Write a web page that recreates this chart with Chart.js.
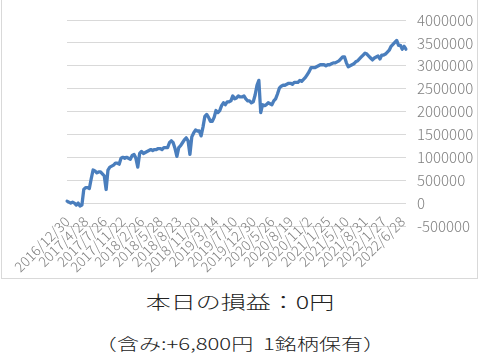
<!DOCTYPE html>
<html><head><meta charset="utf-8">
<script src="https://cdn.jsdelivr.net/npm/chart.js"></script>
<style>
html,body{margin:0;padding:0;background:#fff;width:480px;height:358px;overflow:hidden;}
#frame{position:absolute;left:1px;top:-1px;width:477px;height:280px;border:1px solid #d9d9d9;box-sizing:border-box;}
#c{position:absolute;left:0;top:0;}
.t{position:absolute;left:0;width:480px;text-align:center;font-family:"Noto Sans CJK JP","Noto Sans",sans-serif;color:#222;font-weight:300;white-space:pre;transform-origin:240px 50%;}
#t1{top:288px;font-size:18px;transform:scaleX(1.39);}
#t2{top:331px;font-size:16px;transform:scaleX(1.38);}
</style></head><body>
<div id="frame"></div>
<canvas id="c" width="480" height="278"></canvas>
<div class="t" id="t1">本日の損益：0円</div>
<div class="t" id="t2">（含み:+6,800円  1銘柄保有）</div>
<script>
const tickLabels = ["2016/12/30","2017/4/28","2017/7/26","2017/11/22","2018/2/26","2018/5/28","2018/8/23","2018/11/20","2019/3/14","2019/7/10","2019/12/30","2020/5/26","2020/8/19","2020/11/2","2021/1/25","2021/5/10","2021/8/31","2022/1/27","2022/6/28"];
const yTickValues = [-500000,0,500000,1000000,1500000,2000000,2500000,3000000,3500000,4000000];
const values = [
43000,21000,0,21000,0,-43000,0,-64000,-43000,298000,
340000,340000,319000,532000,723000,702000,660000,681000,681000,638000,
596000,298000,723000,787000,809000,830000,872000,872000,851000,979000,
1000000,979000,1000000,979000,958000,1043000,1064000,979000,787000,1085000,
1128000,1085000,1107000,1128000,1149000,1170000,1149000,1170000,1170000,1192000,
1192000,1170000,1213000,1213000,1213000,1319000,1362000,1319000,1192000,1021000,
1213000,1256000,1319000,1383000,1426000,1362000,1064000,1447000,1532000,1596000,
1575000,1575000,1468000,1660000,1894000,1936000,1873000,1787000,1787000,1873000,
2022000,1979000,2022000,2128000,2192000,2149000,2213000,2213000,2234000,2341000,
2277000,2298000,2341000,2319000,2319000,2341000,2277000,2234000,2234000,2192000,
2213000,2362000,2575000,2681000,1979000,2149000,2128000,2149000,2192000,2170000,
2149000,2234000,2277000,2383000,2511000,2554000,2575000,2575000,2596000,2617000,
2617000,2596000,2639000,2639000,2639000,2681000,2660000,2702000,2745000,2809000,
2873000,2958000,2958000,2958000,2979000,3000000,3022000,3022000,3022000,3000000,
3022000,3022000,3043000,3064000,3064000,3086000,3107000,3149000,3192000,3192000,
3064000,2979000,3000000,3022000,3043000,3086000,3107000,3149000,3192000,3234000,
3277000,3256000,3213000,3170000,3128000,3170000,3192000,3213000,3149000,3234000,
3234000,3256000,3298000,3341000,3426000,3468000,3511000,3553000,3447000,3447000,
3362000,3426000,3362000
];
const categories = values.map((v, i) => (i % 10 === 0 && tickLabels[i / 10]) ? tickLabels[i / 10] : '');
const FONT = '"Noto Sans CJK JP", "Noto Sans", sans-serif';
new Chart(document.getElementById('c'), {
  type: 'line',
  data: {
    labels: categories,
    datasets: [{
      data: values,
      borderColor: '#4a7ebd',
      borderWidth: 3.3,
      pointRadius: 0,
      tension: 0,
      fill: false,
      borderJoinStyle: 'round',
      borderCapStyle: 'round'
    }]
  },
  options: {
    responsive: false,
    animation: false,
    layout: { padding: { top: 15, bottom: 52, left: 67, right: 0 } },
    plugins: { legend: { display: false }, tooltip: { enabled: false } },
    scales: {
      x: {
        type: 'category',
        position: { y: 0 },
        offset: false,
        grid: { display: false, drawTicks: false },
        border: { display: false },
        ticks: {
          autoSkip: false, maxRotation: 45, minRotation: 45, padding: 10,
          color: '#808080', font: { family: FONT, size: 14, weight: 300 }
        }
      },
      y: {
        position: 'right',
        min: -500000, max: 4000000,
        afterBuildTicks: (s) => { s.ticks = yTickValues.map(v => ({ value: v })); },
        afterFit: (s) => { s.width = 74; },
        grid: { color: '#d9d9d9', lineWidth: 1, drawTicks: false },
        border: { display: false },
        ticks: {
          padding: 11, color: '#808080',
          font: { family: FONT, size: 15, weight: 300 },
          callback: (v) => String(v)
        }
      }
    }
  }
});
</script>
</body></html>
